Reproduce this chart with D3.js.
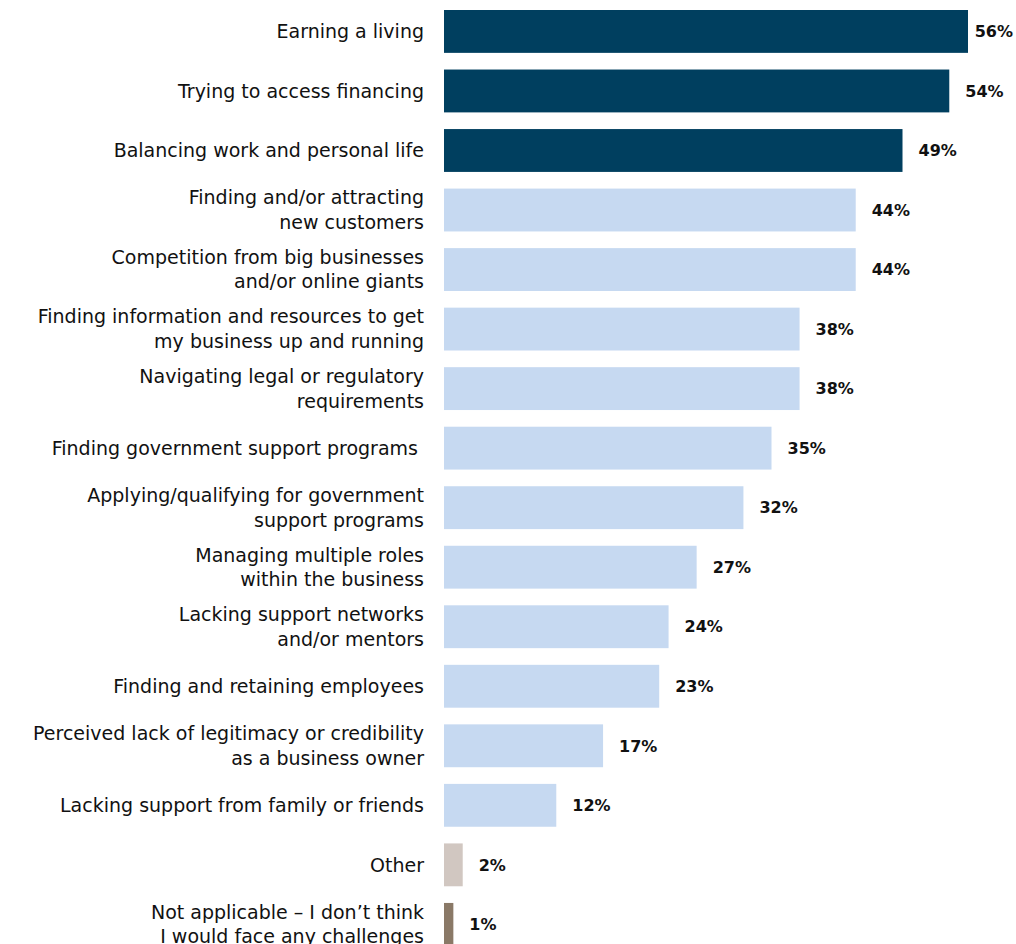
<!DOCTYPE html>
<html>
<head>
<meta charset="utf-8">
<script src="https://cdn.jsdelivr.net/npm/d3@7"></script>
<style>
  html, body { margin: 0; padding: 0; background: #fff; }
  svg { display: block; }
  .cat { font-family: "DejaVu Sans", sans-serif; font-size: 19px; fill: #111; white-space: pre; }
  .val { font-family: "DejaVu Sans", sans-serif; font-size: 16px; font-weight: bold; fill: #111; }
</style>
</head>
<body>
<script>
// Challenges (each label may span two lines)
const categories = [
  ["Earning a living"],
  ["Trying to access financing"],
  ["Balancing work and personal life"],
  ["Finding and/or attracting", "new customers"],
  ["Competition from big businesses", "and/or online giants"],
  ["Finding information and resources to get", "my business up and running"],
  ["Navigating legal or regulatory", "requirements"],
  ["Finding government support programs "],
  ["Applying/qualifying for government", "support programs"],
  ["Managing multiple roles", "within the business"],
  ["Lacking support networks", "and/or mentors"],
  ["Finding and retaining employees"],
  ["Perceived lack of legitimacy or credibility", "as a business owner"],
  ["Lacking support from family or friends"],
  ["Other"],
  ["Not applicable \u2013 I don\u2019t think", "I would face any challenges"]
];
const values = [56, 54, 49, 44, 44, 38, 38, 35, 32, 27, 24, 23, 17, 12, 2, 1];
const groups = ["top", "top", "top", "mid", "mid", "mid", "mid", "mid", "mid", "mid", "mid", "mid", "mid", "mid", "other", "na"];
const groupColors = { top: "#003f5f", mid: "#c6d9f1", other: "#d1c7c1", na: "#8a7967" };

const W = 1016, H = 944;
const svg = d3.select("body").append("svg").attr("width", W).attr("height", H);

const x = d3.scaleLinear().domain([0, 56]).range([444, 968]);
const y = d3.scaleBand().domain(d3.range(values.length))
  .range([10 - 59.53 * 0.14, 10 - 59.53 * 0.14 + 59.53 * values.length])
  .paddingInner(0.28).paddingOuter(0.14);

// bars
svg.selectAll("rect.bar").data(values).join("rect")
  .attr("class", "bar")
  .attr("x", x(0))
  .attr("y", (d, i) => y(i))
  .attr("width", d => x(d) - x(0))
  .attr("height", y.bandwidth())
  .attr("fill", (d, i) => groupColors[groups[i]]);

// category labels, right aligned against the bars
const lineH = 24.5;
svg.selectAll("text.cat").data(categories).join("text")
  .attr("class", "cat")
  .attr("text-anchor", "end")
  .each(function(lines, i) {
    const cy = y(i) + y.bandwidth() / 2;
    const t = d3.select(this);
    lines.forEach((ln, k) => {
      t.append("tspan")
        .attr("x", 424)
        .attr("y", cy + (k - (lines.length - 1) / 2) * lineH)
        .attr("dy", "0.35em")
        .text(ln);
    });
  });

// value labels
svg.selectAll("text.val").data(values).join("text")
  .attr("class", "val")
  .attr("y", (d, i) => y(i) + y.bandwidth() / 2)
  .attr("dy", "0.36em")
  .text(d => d + "%")
  .each(function(d) {
    const t = d3.select(this);
    const w = this.getComputedTextLength();
    let px = x(d) + 16;
    if (px + w > W - 3) px = W - 3 - w;
    t.attr("x", px);
  });
</script>
</body>
</html>
